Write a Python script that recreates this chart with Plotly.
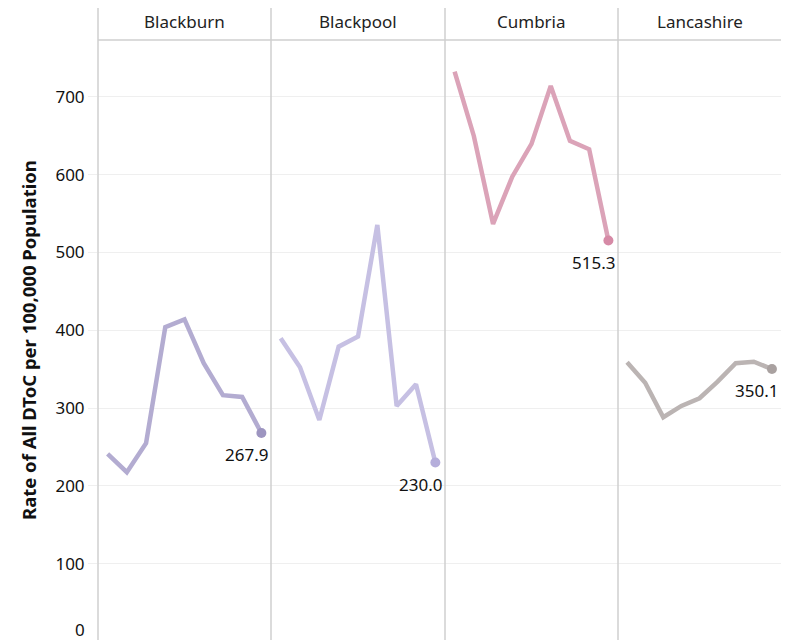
import plotly.graph_objects as go
from plotly.subplots import make_subplots

areas = ["Blackburn", "Blackpool", "Cumbria", "Lancashire"]
periods = list(range(9))

blackburn = [241.0, 217.5, 254.8, 403.9, 414.0, 357.6, 316.5, 314.3, 267.9]
blackpool = [389.7, 352.4, 284.7, 378.9, 391.8, 535.3, 302.7, 330.6, 230.0]
cumbria = [732.4, 649.7, 536.6, 597.4, 639.5, 714.0, 643.3, 632.6, 515.3]
lancashire = [358.9, 332.6, 288.2, 302.7, 312.6, 333.9, 357.6, 359.6, 350.1]

y_ticks = [100, 200, 300, 400, 500, 600, 700]

series = [blackburn, blackpool, cumbria, lancashire]
line_colors = ["#b3acd1", "#c6c0e3", "#dba3b8", "#bbb4b3"]
dot_colors = ["#9d95c0", "#b5aedb", "#d68aa6", "#a9a1a0"]

FONT = "Noto Sans"
PW = 683  # plot area width in px
PH = 600  # plot area height in px
edges = [0, 173, 347, 520, 683]  # panel edges in px from plot left

fig = make_subplots(rows=1, cols=4, shared_yaxes=True, horizontal_spacing=0)

for i, vals in enumerate(series):
    col = i + 1
    fig.add_trace(go.Scatter(
        x=periods, y=vals, mode="lines",
        line=dict(color=line_colors[i], width=4.5),
        hoverinfo="skip", showlegend=False), row=1, col=col)
    fig.add_trace(go.Scatter(
        x=[periods[-1]], y=[vals[-1]], mode="markers",
        marker=dict(color=dot_colors[i], size=10),
        hoverinfo="skip", showlegend=False), row=1, col=col)
    xref = "x" if col == 1 else "x%d" % col
    yref = "y" if col == 1 else "y%d" % col
    fig.add_annotation(x=periods[-1], y=vals[-1], xref=xref, yref=yref,
                       text="%.1f" % vals[-1], showarrow=False,
                       xanchor="right", yanchor="top", xshift=9 if col < 4 else 8, yshift=-8,
                       font=dict(family=FONT, size=17, color="#111"))
    x0, x1 = edges[i] / PW, edges[i + 1] / PW
    # panel header
    fig.add_annotation(x=(x0 + x1) / 2, y=1 + 18 / PH, xref="paper", yref="paper",
                       text=areas[i], showarrow=False, xanchor="center", yanchor="middle",
                       font=dict(family=FONT, size=17, color="#222"))
    # panel separators
    fig.add_shape(type="line", xref="paper", yref="paper",
                  x0=x0, x1=x0, y0=0, y1=1 + 35 / PH,
                  line=dict(color="#cfcfcf", width=1.5))

    fig.update_xaxes(domain=[x0, x1], range=[-0.5, 8.5], showgrid=False,
                     showticklabels=False, ticks="", zeroline=False, showline=False,
                     row=1, col=col)
    fig.update_yaxes(range=[1.9, 773], tickvals=y_ticks, showgrid=True,
                     gridcolor="#efefef", gridwidth=1, zeroline=False, showline=False,
                     row=1, col=col)

fig.update_yaxes(ticks="outside", ticklen=9, tickcolor="#efefef",
                 tickfont=dict(family=FONT, size=17, color="#111"), row=1, col=1)

# header underline
fig.add_shape(type="line", xref="paper", yref="paper", x0=0, x1=1,
              y0=1, y1=1, line=dict(color="#cfcfcf", width=1.5))

# bottom "0" tick label
fig.add_annotation(x=-11 / PW, y=11 / PH, xref="paper", yref="paper", text="0",
                   showarrow=False, xanchor="right", yanchor="middle",
                   font=dict(family=FONT, size=17, color="#111"))

# y-axis title
fig.add_annotation(x=-70 / PW, y=0.5, xref="paper", yref="paper",
                   text="<b>Rate of All DToC per 100,000 Population</b>",
                   textangle=-90, showarrow=False, xanchor="center", yanchor="middle",
                   font=dict(family=FONT, size=18.5, color="#111"))

# page body has an 8px margin, so the figure is shifted to compensate
fig.update_layout(
    width=773, height=632,
    margin=dict(l=90, r=0, t=32, b=0),
    plot_bgcolor="white", paper_bgcolor="white",
)

fig.write_html("out.html")
